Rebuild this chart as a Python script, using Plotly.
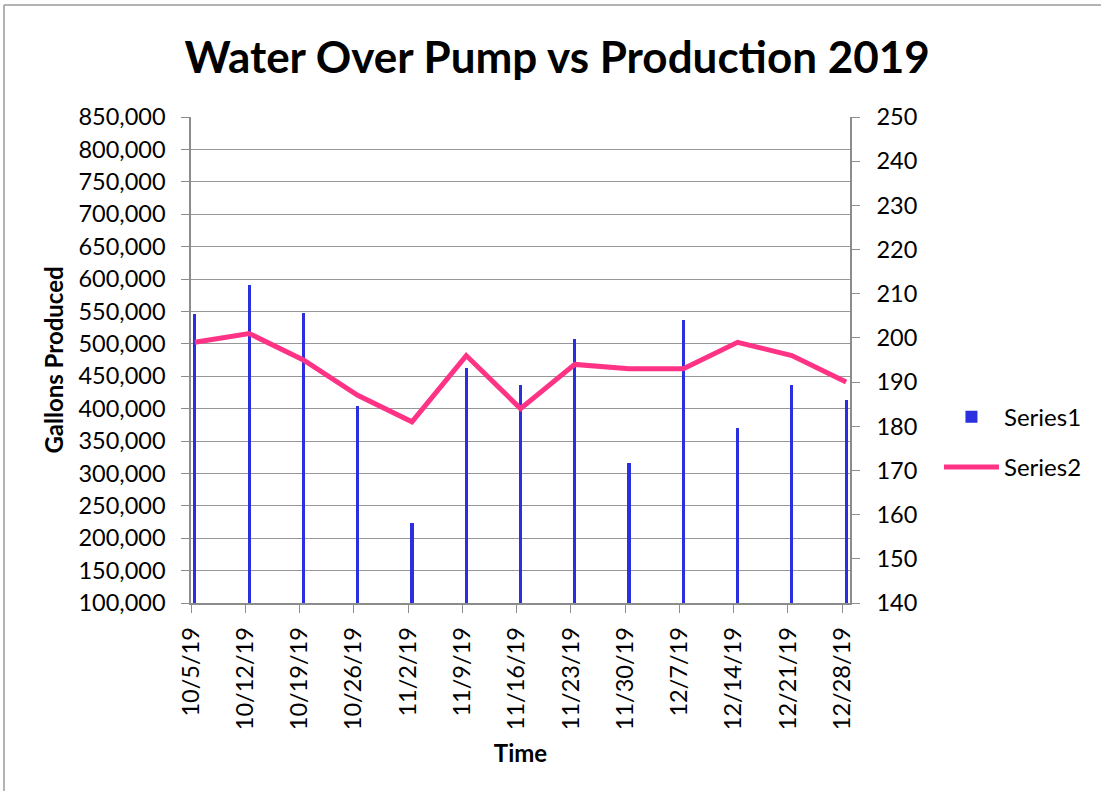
import pandas as pd
import plotly.graph_objects as go

dates = ["2019-10-05", "2019-10-12", "2019-10-19", "2019-10-26", "2019-11-02",
         "2019-11-09", "2019-11-16", "2019-11-23", "2019-11-30", "2019-12-07",
         "2019-12-14", "2019-12-21", "2019-12-28"]
tick_labels = ["10/5/19", "10/12/19", "10/19/19", "10/26/19", "11/2/19", "11/9/19",
               "11/16/19", "11/23/19", "11/30/19", "12/7/19", "12/14/19", "12/21/19",
               "12/28/19"]
series1 = [546000, 590000, 547000, 404000, 223000, 463000, 437000,
           507000, 316000, 536000, 370000, 437000, 413000]
series2 = [199, 201, 195, 187, 181, 196, 184, 194, 193, 193, 199, 196, 190]

FONT = "Lato"
day_ms = 86400000
x_dt = pd.to_datetime(dates)
x_mid = x_dt + pd.Timedelta(hours=12)

fig = go.Figure()
fig.add_trace(go.Bar(
    x=x_mid, y=series1, name="Series1", width=0.4 * day_ms,
    marker=dict(color="#2B2FE0", line=dict(width=0)),
    legendgroup="a", yaxis="y",
))
fig.add_trace(go.Scatter(
    x=x_mid, y=series2, name="Series2", mode="lines",
    line=dict(color="#FF3385", width=5), legendgroup="b", yaxis="y2",
))

axis_col = "#8C8C8C"
TICK = 23.5
fig.update_layout(
    width=1101, height=791,
    margin=dict(l=191, r=251, t=117, b=188),
    paper_bgcolor="white", plot_bgcolor="white",
    font=dict(family=FONT, size=TICK, color="black"),
    title=dict(text="<b>Water Over Pump vs Production 2019</b>",
               font=dict(family=FONT, size=44, color="black"),
               x=0.506, xanchor="center", y=0.927, yanchor="middle"),
    showlegend=True,
    legend=dict(x=1.135, xanchor="left", y=0.331, yanchor="middle",
                font=dict(size=24), tracegroupgap=16, traceorder="grouped",
                itemwidth=55, bgcolor="rgba(0,0,0,0)"),
    xaxis=dict(
        type="date", range=[x_dt[0], x_dt[-1] + pd.Timedelta(days=1)],
        tickmode="array", tickvals=x_dt, ticktext=tick_labels,
        tickangle=-90, ticks="outside", ticklen=8, tickcolor=axis_col,
        showline=True, linecolor=axis_col, linewidth=1.5, showgrid=False,
        zeroline=False, ticklabelstandoff=5,
        title=dict(text="<b>Time</b>", font=dict(size=24), standoff=16),
    ),
    yaxis=dict(
        range=[100000, 850000], dtick=50000, tick0=100000, tickformat=",",
        ticks="outside", ticklen=8, tickcolor=axis_col,
        showline=True, linecolor=axis_col, linewidth=1.5,
        showgrid=True, gridcolor="#979797", gridwidth=1.2, zeroline=False,
        ticklabelstandoff=11,
        title=dict(text="<b>Gallons Produced</b>", font=dict(size=24), standoff=8),
    ),
    yaxis2=dict(
        range=[140, 250], dtick=10, tick0=140, overlaying="y", side="right",
        ticks="outside", ticklen=8, tickcolor=axis_col,
        showline=True, linecolor=axis_col, linewidth=1.5, showgrid=False,
        zeroline=False, ticklabelstandoff=12,
    ),
    bargap=0,
)

# outer chart border (left and top edges)
fig.add_shape(type="line", xref="paper", yref="paper",
              x0=(4 - 191) / 659, x1=(4 - 191) / 659,
              y0=(603 - 5) / 486, y1=(603 - 800) / 486,
              line=dict(color="#9A9A9A", width=1.5))
fig.add_shape(type="line", xref="paper", yref="paper",
              x0=(4 - 191) / 659, x1=(1110 - 191) / 659,
              y0=(603 - 5) / 486, y1=(603 - 5) / 486,
              line=dict(color="#9A9A9A", width=1.5))

fig.write_html("out.html", config={"displayModeBar": False},
               post_script="document.body.style.margin='0px';")
